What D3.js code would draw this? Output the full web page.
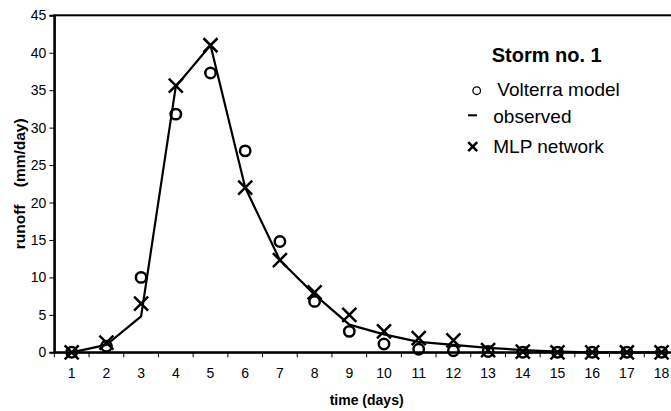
<!DOCTYPE html>
<html><head><meta charset="utf-8">
<script src="https://cdn.jsdelivr.net/npm/d3@7"></script>
<style>
html,body{margin:0;padding:0;background:#fff;}
svg{display:block;font-family:"Liberation Sans",Arial,sans-serif;}
</style></head>
<body><svg id="c" width="671" height="411"></svg>
<script>
const days = [1,2,3,4,5,6,7,8,9,10,11,12,13,14,15,16,17,18];
const observed = [0,1.0,4.8,35.5,41.0,22.0,12.3,7.7,3.7,2.4,1.4,1.0,0.6,0.3,0.1,0,0,0];
const volterra = [0,0.8,10.0,31.8,37.3,26.9,14.8,6.8,2.8,1.1,0.4,0.2,0.1,0,0,0,0,0];
const mlp = [0,1.3,6.5,35.6,41.0,22.0,12.3,8.0,5.0,2.8,1.9,1.6,0.3,0.1,0,0,0,0];
const yTicks = [0,5,10,15,20,25,30,35,40,45];
const legendTitle = "Storm no. 1";
const legendLabels = ["Volterra model","observed","MLP network"];

const svg = d3.select("#c");
const L = 54.35, T = 15.3, B = 352.3, bw = 34.7;
const R = L + bw*days.length;
const x = d3.scaleBand().domain(days).range([L, R]).padding(0);
const cx = d => x(d) + x.bandwidth()/2;
const y = d3.scaleLinear().domain([0,45]).range([B, T]);

// frame
svg.append("rect").attr("x",L).attr("y",T).attr("width",R-L).attr("height",B-T)
  .attr("fill","none").attr("stroke","#000").attr("stroke-width",2);

// y axis
const ya = svg.append("g").attr("transform",`translate(${L},0)`)
  .call(d3.axisLeft(y).tickValues(yTicks).tickSize(5).tickPadding(3).tickFormat(d3.format("d")));
ya.select(".domain").attr("stroke-width",2);
ya.selectAll("text").attr("font-size",14).attr("font-family","Liberation Sans, Arial, sans-serif").attr("fill","#000");

// x axis
const xa = svg.append("g").attr("transform",`translate(0,${B})`)
  .call(d3.axisBottom(x).tickSize(0).tickPadding(16));
xa.select(".domain").attr("stroke-width",2);
xa.selectAll("text").attr("font-size",14).attr("font-family","Liberation Sans, Arial, sans-serif").attr("fill","#000");
// boundary ticks
const bounds = days.map(d => x(d)).concat([R]);
svg.append("g").selectAll("line").data(bounds).join("line")
  .attr("x1",d=>d).attr("x2",d=>d).attr("y1",B).attr("y2",B+5)
  .attr("stroke","#000").attr("stroke-width",1);

// titles
svg.append("text").attr("x",(L+R)/2).attr("y",405).attr("text-anchor","middle")
  .attr("font-size",14).attr("font-weight","bold").text("time (days)");
svg.append("text").attr("transform",`translate(25,${(T+B)/2}) rotate(-90)`)
  .attr("text-anchor","middle").attr("font-size",15.5).attr("font-weight","bold")
  .style("white-space","pre").text("runoff    (mm/day)");

// observed line
const pts = days.map((d,i)=>[cx(d), y(observed[i])]);
svg.append("path").attr("d", d3.line()(pts)).attr("fill","none")
  .attr("stroke","#000").attr("stroke-width",2.2).attr("stroke-linejoin","round");

// volterra circles
svg.append("g").selectAll("circle").data(days).join("circle")
  .attr("cx",d=>cx(d)).attr("cy",(d,i)=>y(volterra[i])).attr("r",5.2)
  .attr("fill","none").attr("stroke","#000").attr("stroke-width",2.5);

// mlp crosses
const s = 7;
svg.append("g").selectAll("path").data(days).join("path")
  .attr("d",(d,i)=>{const a=cx(d), b=y(mlp[i]); return `M${a-s},${b-s}L${a+s},${b+s}M${a-s},${b+s}L${a+s},${b-s}`;})
  .attr("fill","none").attr("stroke","#000").attr("stroke-width",2.5);

// legend
const lg = svg.append("g");
lg.append("text").attr("x",491.7).attr("y",62.3).attr("font-size",20).attr("font-weight","bold").text(legendTitle);
const rowsY = [95.7,123.3,152.7];
lg.append("circle").attr("cx",476.7).attr("cy",rowsY[0]-5).attr("r",3.8).attr("fill","none").attr("stroke","#000").attr("stroke-width",1.3);
lg.append("line").attr("x1",468).attr("x2",477).attr("y1",rowsY[1]-8).attr("y2",rowsY[1]-8).attr("stroke","#000").attr("stroke-width",2);
const lx=472.7, ly=rowsY[2]-6, ls=4.5;
lg.append("path").attr("d",`M${lx-ls},${ly-ls}L${lx+ls},${ly+ls}M${lx-ls},${ly+ls}L${lx+ls},${ly-ls}`).attr("stroke","#000").attr("stroke-width",2.5);
const lxs=[497.3,493.3,493.3];
legendLabels.forEach((t,i)=>lg.append("text").attr("x",lxs[i]).attr("y",rowsY[i]).attr("font-size",19).text(t));
</script></body></html>
